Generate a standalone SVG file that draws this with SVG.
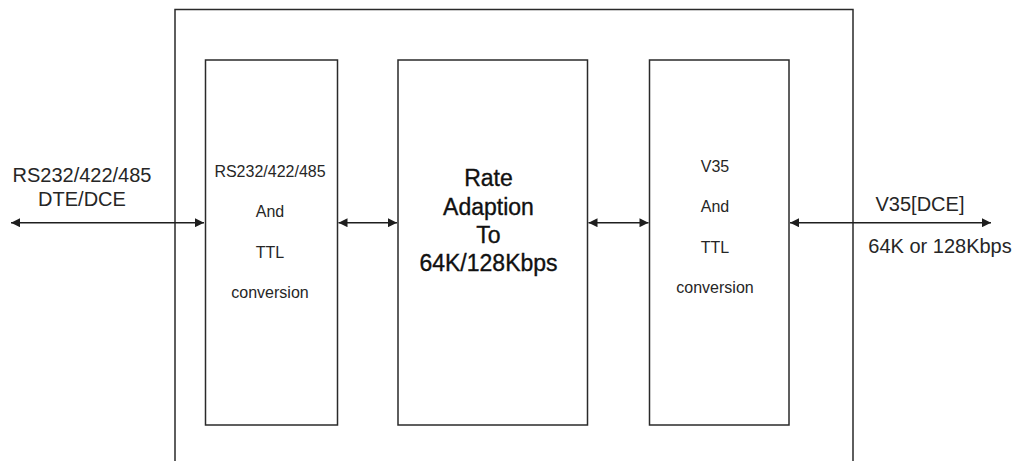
<svg xmlns="http://www.w3.org/2000/svg" width="1015" height="461" viewBox="0 0 1015 461">
<style>
.box{fill:#fff;stroke:#2a2a2a;stroke-width:1.5}
.conn{stroke:#1e1e1e;stroke-width:1.5;fill:none}
text{font-family:"Liberation Sans",Arial,sans-serif;fill:#262626;text-anchor:middle}
.s{font-size:16px}
.m{font-size:20px}
.l{font-size:23px;fill:#111;stroke:#111;stroke-width:0.35}
</style>
<defs>
<marker id="ah" viewBox="0 0 10 10" refX="10" refY="5" markerWidth="11" markerHeight="9" markerUnits="userSpaceOnUse" orient="auto-start-reverse">
<path d="M0,0 L10,5 L0,10 Z" fill="#1e1e1e"/>
</marker>
</defs>
<rect fill="#fff" x="0" y="0" width="1015" height="461"/>
<g id="enclosure">
<path class="box" d="M175,470 L175,9.5 L853,9.5 L853,470"/>
</g>
<g id="node-rs232">
<rect class="box" x="205.5" y="60" width="132" height="365"/>
<text class="s" x="270" y="176.5">RS232/422/485</text>
<text class="s" x="270" y="216.5">And</text>
<text class="s" x="270" y="257.5">TTL</text>
<text class="s" x="270" y="298">conversion</text>
</g>
<g id="node-rate">
<rect class="box" x="398" y="60" width="189.5" height="365"/>
<text class="l" x="488.5" y="186">Rate</text>
<text class="l" x="488.5" y="215">Adaption</text>
<text class="l" x="488.5" y="243">To</text>
<text class="l" x="488.5" y="271">64K/128Kbps</text>
</g>
<g id="node-v35">
<rect class="box" x="649.5" y="60" width="139.5" height="365"/>
<text class="s" x="715" y="172">V35</text>
<text class="s" x="715" y="212">And</text>
<text class="s" x="715" y="252.5">TTL</text>
<text class="s" x="715" y="293">conversion</text>
</g>
<g id="label-left">
<text class="m" x="82" y="182">RS232/422/485</text>
<text class="m" x="82" y="205.5">DTE/DCE</text>
</g>
<g id="label-right">
<text class="m" x="920" y="211">V35[DCE]</text>
<text class="m" x="940" y="253">64K or 128Kbps</text>
</g>
<g id="connectors">
<line class="conn" x1="11" y1="222.7" x2="204" y2="222.7" marker-start="url(#ah)" marker-end="url(#ah)"/>
<line class="conn" x1="338.5" y1="222.7" x2="397" y2="222.7" marker-start="url(#ah)" marker-end="url(#ah)"/>
<line class="conn" x1="588.5" y1="222.7" x2="648.5" y2="222.7" marker-start="url(#ah)" marker-end="url(#ah)"/>
<line class="conn" x1="790" y1="222.7" x2="991" y2="222.7" marker-start="url(#ah)" marker-end="url(#ah)"/>
</g>
</svg>
